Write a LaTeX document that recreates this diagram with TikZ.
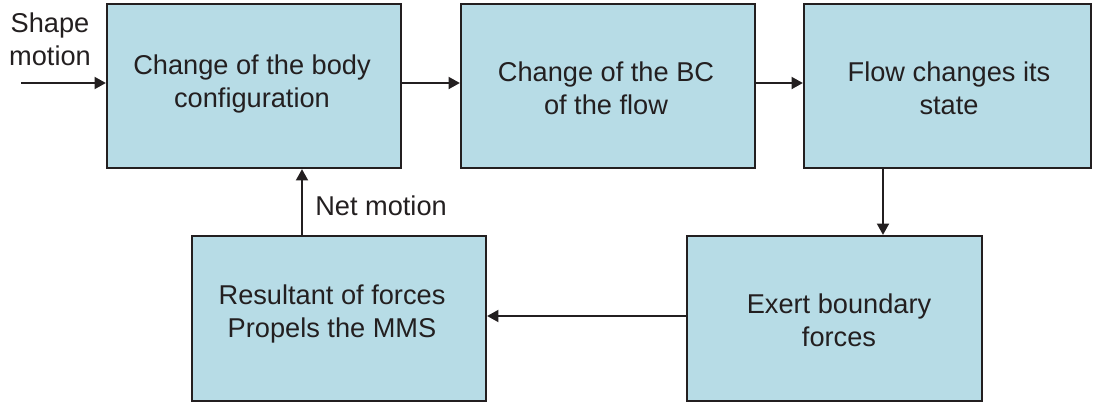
\documentclass[tikz,border=0pt]{standalone}
\usepackage{fontspec}
\setmainfont{Liberation Sans}
\usetikzlibrary{arrows.meta}
\definecolor{boxfill}{HTML}{B7DCE6}
\definecolor{ink}{HTML}{231F20}
\begin{document}
\begin{tikzpicture}[x=0.75pt,y=-0.75pt,
  blk/.style={draw=ink,line width=1.7pt,fill=boxfill,inner sep=0pt,text=ink,align=center,
    font=\fontsize{20.4pt}{24pt}\selectfont},
  conn/.style={draw=ink,line width=1.5pt,-{Triangle[length=8.5pt,width=9pt]}},
  lbl/.style={text=ink,inner sep=0pt,font=\fontsize{20.4pt}{24.5pt}\selectfont,align=center}]
\useasboundingbox (0,0) rectangle (1093,405);
\node[blk,minimum width=294*0.75pt,minimum height=164*0.75pt] (b1) at (254,86) {};
\node[blk,minimum width=294*0.75pt,minimum height=164*0.75pt] (b2) at (608,86) {};
\node[blk,minimum width=287*0.75pt,minimum height=164*0.75pt] (b3) at (947.5,86) {};
\node[blk,minimum width=294*0.75pt,minimum height=165*0.75pt] (b4) at (339,318.5) {};
\node[blk,minimum width=295*0.75pt,minimum height=165*0.75pt] (b5) at (834.5,318.5) {};
\node[lbl] (t1) at (252,84) {Change of the body\\configuration};
\node[lbl] (t2) at (606,88) {Change of the BC\\of the flow};
\node[lbl] (t3) at (949,88) {Flow changes its\\state};
\node[lbl] (t4) at (332,314) {Resultant of forces\\Propels the MMS};
\node[lbl] (t5) at (839,320) {Exert boundary\\forces};
\node[lbl,font=\fontsize{20.4pt}{25pt}\selectfont] (ls) at (50,39) {Shape\\motion};
\node[lbl,anchor=base west] (ln) at (315,215) {Net motion};
\coordinate (in) at (21,83);
\coordinate (r1) at (0,83);
\coordinate (r2) at (0,316);
\coordinate (c1) at (883,0);
\coordinate (c2) at (302,0);
\draw[conn] (in) -- (b1.west |- r1);
\draw[conn] (b1.east |- r1) -- (b2.west |- r1);
\draw[conn] (b2.east |- r1) -- (b3.west |- r1);
\draw[conn] (b3.south -| c1) -- (b5.north -| c1);
\draw[conn] (b5.west |- r2) -- (b4.east |- r2);
\draw[conn] (b4.north -| c2) -- (b1.south -| c2);
\end{tikzpicture}
\end{document}
